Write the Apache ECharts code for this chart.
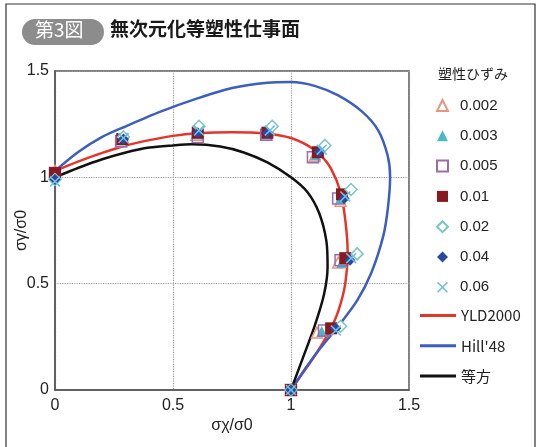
<!DOCTYPE html>
<html>
<head>
<meta charset="utf-8">
<script src="https://cdn.jsdelivr.net/npm/echarts@6/dist/echarts.min.js"></script>
<style>
  html, body { margin: 0; padding: 0; background: #fff; }
  #chart { width: 539px; height: 447px; }
</style>
</head>
<body>
<div id="chart"></div>
<script>
// 塑性ひずみごとの実験点 [σx/σ0, σy/σ0]
const strainNames = ['0.002', '0.003', '0.005', '0.01', '0.02', '0.04', '0.06'];
const pts002 = [[0, 1.03], [0.28, 1.17], [0.6, 1.2], [0.895, 1.2], [1.1, 1.1], [1.21, 0.89], [1.2, 0.6], [1.11, 0.27], [1, 0]];
const pts003 = [[0, 1.02], [0.285, 1.175], [0.605, 1.205], [0.9, 1.205], [1.105, 1.105], [1.21, 0.9], [1.215, 0.6], [1.13, 0.275], [1, 0]];
const pts005 = [[0, 1.02], [0.28, 1.17], [0.605, 1.19], [0.895, 1.2], [1.093, 1.094], [1.2, 0.9], [1.21, 0.61], [1.14, 0.28], [1, 0]];
const pts01 = [[0, 1.02], [0.285, 1.18], [0.605, 1.21], [0.9, 1.21], [1.114, 1.118], [1.216, 0.92], [1.23, 0.62], [1.17, 0.29], [1, 0]];
const pts02 = [[0, 0.99], [0.29, 1.19], [0.61, 1.24], [0.92, 1.24], [1.144, 1.15], [1.254, 0.943], [1.28, 0.64], [1.21, 0.3], [1, 0]];
const pts04 = [[0, 0.99], [0.29, 1.18], [0.605, 1.21], [0.9, 1.21], [1.12, 1.12], [1.225, 0.9], [1.25, 0.61], [1.19, 0.29], [1, 0]];
const pts06 = [[0, 0.98], [0.29, 1.185], [0.61, 1.22], [0.91, 1.22], [1.13, 1.13], [1.23, 0.91], [1.255, 0.62], [1.19, 0.28], [1, 0]];

// 降伏曲面
const curveYld = [[0, 1.03], [0.1, 1.075], [0.2, 1.115], [0.3, 1.15], [0.4, 1.175], [0.5, 1.195], [0.6, 1.207], [0.75, 1.212], [0.9, 1.205], [1.0, 1.185], [1.07, 1.15], [1.12, 1.11], [1.17, 1.04], [1.21, 0.93], [1.23, 0.8], [1.24, 0.65], [1.23, 0.5], [1.2, 0.37], [1.16, 0.27], [1.1, 0.16], [1.05, 0.08], [1, 0]];
const curveHill = [[0, 1.03], [0.1, 1.12], [0.2, 1.19], [0.3, 1.24], [0.45, 1.31], [0.6, 1.37], [0.75, 1.42], [0.9, 1.445], [1.0, 1.448], [1.1, 1.43], [1.2, 1.385], [1.3, 1.31], [1.37, 1.22], [1.41, 1.1], [1.42, 1.0], [1.41, 0.85], [1.39, 0.72], [1.34, 0.55], [1.28, 0.42], [1.2, 0.3], [1.12, 0.19], [1.06, 0.1], [1, 0]];
const curveIso = [[0, 1], [0.1, 1.045], [0.2, 1.085], [0.3, 1.117], [0.4, 1.14], [0.5, 1.15], [0.58, 1.155], [0.7, 1.145], [0.8, 1.117], [0.9, 1.07], [1.0, 1.0], [1.07, 0.93], [1.12, 0.83], [1.15, 0.7], [1.155, 0.58], [1.14, 0.45], [1.1, 0.3], [1.05, 0.15], [1, 0]];

const axisTicks = [0, 0.5, 1, 1.5];

const fontLatin = '"Liberation Sans", Arial, sans-serif';
const fontJp = '"Noto Sans CJK JP", sans-serif';
const crossPath = 'path://M0,1 L1,0 L5,4 L9,0 L10,1 L6,5 L10,9 L9,10 L5,6 L1,10 L0,9 L4,5 Z';

const chart = echarts.init(document.getElementById('chart'));

const markerStyles = [
  { data: pts002, symbol: 'triangle', size: 11, itemStyle: { color: '#fff', borderColor: '#e8957c', borderWidth: 1.5 } },
  { data: pts003, symbol: 'triangle', size: 11, itemStyle: { color: '#4cb8c6' } },
  { data: pts005, symbol: 'rect', size: 11, itemStyle: { color: 'transparent', borderColor: '#9a6cae', borderWidth: 1.5 } },
  { data: pts01, symbol: 'rect', size: 12, itemStyle: { color: '#871a20' } },
  { data: pts02, symbol: 'diamond', size: 12, itemStyle: { color: '#fff', borderColor: '#7cc4c4', borderWidth: 1.5 } },
  { data: pts04, symbol: 'diamond', size: 11, itemStyle: { color: '#2a48a0' } },
  { data: pts06, symbol: crossPath, size: 11, itemStyle: { color: '#6fbfe2' } }
];

const scatterSeries = markerStyles.map((m, i) => ({
  name: strainNames[i],
  type: 'scatter',
  data: m.data,
  symbol: m.symbol,
  symbolSize: m.size,
  itemStyle: Object.assign({ opacity: 1 }, m.itemStyle),
  z: 5
}));

const lineSeries = [
  { name: 'YLD2000', data: curveYld, color: '#e5342a' },
  { name: "Hill'48", data: curveHill, color: '#3c5fbf' },
  { name: '等方', data: curveIso, color: '#111111' }
].map(s => ({
  name: s.name,
  type: 'line',
  data: s.data,
  smooth: 0.3,
  symbol: 'none',
  showSymbol: false,
  lineStyle: { color: s.color, width: 2.5 },
  itemStyle: { color: s.color },
  z: 3
}));

chart.setOption({
  backgroundColor: '#fff',
  animation: false,
  graphic: [
    { type: 'rect', shape: { x: 6, y: 4, width: 529, height: 470 }, style: { fill: 'none', stroke: '#333', lineWidth: 1.2 } },
    { type: 'rect', shape: { x: 22, y: 19, width: 82, height: 26, r: 13 }, style: { fill: '#8c8c8c' } },
    { type: 'text', left: 35, top: 20, style: { text: '第3図', fill: '#fff', font: '19px ' + fontJp } },
    { type: 'text', left: 110, top: 19, style: { text: '無次元化等塑性仕事面', fill: '#1a1a1a', font: 'bold 19px ' + fontJp } },
    { type: 'text', left: 438, top: 67, style: { text: '塑性ひずみ', fill: '#222', font: '14px ' + fontJp } }
  ],
  grid: {
    left: 55, right: 130, top: 71, bottom: 57,
    show: true, borderColor: '#555', borderWidth: 1.5, backgroundColor: '#fff'
  },
  legend: [
    {
      data: strainNames,
      orient: 'vertical',
      left: 436, top: 98,
      padding: 0,
      itemWidth: 11, itemHeight: 11, itemGap: 15.3,
      textStyle: { fontSize: 15, color: '#222', fontFamily: fontLatin, padding: [0, 0, 0, 7] }
    },
    {
      data: ['YLD2000', "Hill'48", '等方'],
      orient: 'vertical',
      left: 420, top: 308,
      padding: 0,
      icon: 'rect',
      itemWidth: 36, itemHeight: 3, itemGap: 15.3,
      textStyle: { fontSize: 15, color: '#222', fontFamily: fontJp }
    }
  ],
  xAxis: {
    type: 'value', min: axisTicks[0], max: axisTicks[3], interval: 0.5,
    name: 'σχ/σ0', nameLocation: 'middle', nameGap: 28, nameMoveOverlap: false,
    nameTextStyle: { fontSize: 16, color: '#222', fontFamily: fontLatin },
    axisLine: { show: true, lineStyle: { color: '#555', width: 1.5 } },
    axisTick: { show: false },
    axisLabel: { fontSize: 16, color: '#222', fontFamily: fontLatin, margin: 8 },
    splitLine: { show: true, lineStyle: { color: '#999', type: 'dotted', width: 1.2 } }
  },
  yAxis: {
    type: 'value', min: axisTicks[0], max: axisTicks[3], interval: 0.5,
    name: 'σγ/σ0', nameLocation: 'middle', nameGap: 25, nameMoveOverlap: false,
    nameTextStyle: { fontSize: 16, color: '#222', fontFamily: fontLatin },
    axisLine: { show: true, lineStyle: { color: '#555', width: 1.5 } },
    axisTick: { show: false },
    axisLabel: { fontSize: 16, color: '#222', fontFamily: fontLatin, margin: 6 },
    splitLine: { show: true, lineStyle: { color: '#999', type: 'dotted', width: 1.2 } }
  },
  series: lineSeries.concat(scatterSeries)
});
</script>
</body>
</html>
